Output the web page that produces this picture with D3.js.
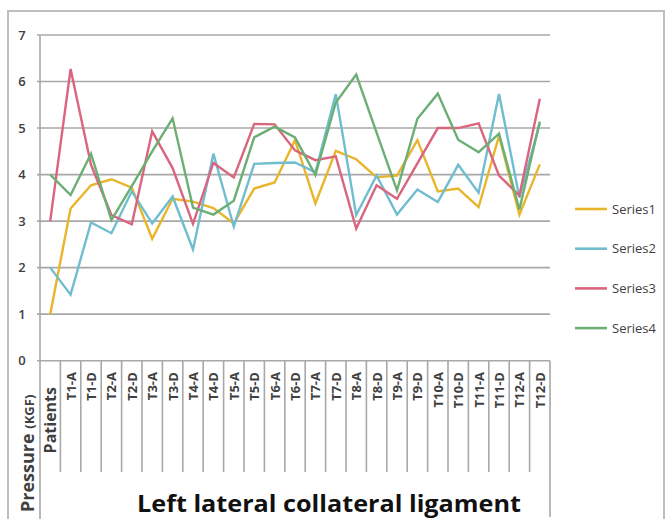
<!DOCTYPE html>
<html>
<head>
<meta charset="utf-8">
<script src="https://cdn.jsdelivr.net/npm/d3@7"></script>
<style>
  body { margin: 0; background: #fff; }
  text { font-family: "Open Sans", "Noto Sans", sans-serif; fill: #404040; }
</style>
</head>
<body>
<div id="chart"></div>
<script>

var categories = ["Patients", "T1-A", "T1-D", "T2-A", "T2-D", "T3-A", "T3-D", "T4-A", "T4-D",
    "T5-A", "T5-D", "T6-A", "T6-D", "T7-A", "T7-D", "T8-A", "T8-D", "T9-A", "T9-D",
    "T10-A", "T10-D", "T11-A", "T11-D", "T12-A", "T12-D"];

var series1 = [1, 3.27, 3.77, 3.9, 3.72, 2.62, 3.48, 3.42, 3.28, 2.95, 3.7, 3.83, 4.74, 3.38, 4.51,
    4.33, 3.94, 3.98, 4.74, 3.64, 3.7, 3.3, 4.83, 3.14, 4.22];
var series2 = [2, 1.42, 2.97, 2.74, 3.64, 2.95, 3.53, 2.39, 4.45, 2.88, 4.23, 4.25, 4.26, 4.05, 5.73,
    3.13, 3.98, 3.14, 3.68, 3.41, 4.21, 3.61, 5.73, 3.51, 5.1];
var series3 = [3, 6.27, 4.21, 3.13, 2.93, 4.93, 4.14, 2.94, 4.25, 3.94, 5.09, 5.08, 4.52, 4.31, 4.39,
    2.84, 3.77, 3.48, 4.24, 5.0, 5.0, 5.1, 3.98, 3.55, 5.63];
var series4 = [4, 3.56, 4.45, 3.02, 3.75, 4.5, 5.21, 3.29, 3.14, 3.44, 4.8, 5.03, 4.8, 3.99, 5.55,
    6.15, 4.9, 3.66, 5.2, 5.74, 4.75, 4.48, 4.88, 3.25, 5.14];

var seriesNames = ["Series1", "Series2", "Series3", "Series4"];
var yTicks = [0, 1, 2, 3, 4, 5, 6, 7];

var colors = ["#E9B52B", "#70BDD0", "#D9657F", "#6CAF74"];
var allSeries = [series1, series2, series3, series4];

var width = 667, height = 519;
var plot = {left: 40, right: 550, top: 35, bottom: 360.7};

var svg = d3.select("#chart").append("svg")
    .attr("width", width)
    .attr("height", height);

// outer frame
svg.append("rect")
    .attr("x", 8).attr("y", 11)
    .attr("width", 656).attr("height", 530)
    .attr("fill", "none")
    .attr("stroke", "#BEBEBE")
    .attr("stroke-width", 2);

var x = d3.scalePoint()
    .domain(categories)
    .range([plot.left, plot.right])
    .padding(0.5);

var y = d3.scaleLinear()
    .domain([0, 7])
    .range([plot.bottom, plot.top]);

var step = x.step();

// gridlines
svg.append("g").selectAll("line")
    .data(yTicks)
    .enter().append("line")
    .attr("x1", plot.left - 3)
    .attr("x2", plot.right)
    .attr("y1", function(d) { return y(d); })
    .attr("y2", function(d) { return y(d); })
    .attr("stroke", "#A8A8A8")
    .attr("stroke-width", 1.6);

// y labels
svg.append("g").selectAll("text")
    .data(yTicks)
    .enter().append("text")
    .attr("x", 22)
    .attr("y", function(d) { return y(d); })
    .attr("dy", "0.35em")
    .attr("text-anchor", "middle")
    .style("font-size", "13px")
    .style("font-weight", "600")
    .text(function(d) { return d; });

// left axis line
svg.append("line")
    .attr("x1", plot.left).attr("x2", plot.left)
    .attr("y1", plot.top).attr("y2", height)
    .attr("stroke", "#A8A8A8")
    .attr("stroke-width", 1.6);

// category separators
svg.append("g").selectAll("line")
    .data(categories.slice(1))
    .enter().append("line")
    .attr("x1", function(d) { return x(d) - step / 2; })
    .attr("x2", function(d) { return x(d) - step / 2; })
    .attr("y1", plot.bottom)
    .attr("y2", 472)
    .attr("stroke", "#A8A8A8")
    .attr("stroke-width", 1.6);

svg.append("line")
    .attr("x1", plot.right).attr("x2", plot.right)
    .attr("y1", plot.bottom).attr("y2", 517)
    .attr("stroke", "#A8A8A8")
    .attr("stroke-width", 1.6);

// category labels
svg.append("g").selectAll("text")
    .data(categories.slice(1))
    .enter().append("text")
    .attr("transform", function(d) { return "translate(" + (x(d) + 5) + ",372) rotate(-90)"; })
    .attr("text-anchor", "end")
    .style("font-size", "13px")
    .style("font-weight", "bold")
    .text(function(d) { return d; });

svg.append("text")
    .attr("transform", "translate(" + (x("Patients") + 6) + ",387) rotate(-90)")
    .attr("text-anchor", "end")
    .style("font-size", "16px")
    .style("font-weight", "bold")
    .text("Patients");

// y axis title
var yTitle = svg.append("text")
    .attr("transform", "translate(34,512) rotate(-90)")
    .style("font-weight", "bold");
yTitle.append("tspan").style("font-size", "18px").text("Pressure ");
yTitle.append("tspan").style("font-size", "13px").text("(KGF)");

// chart title
svg.append("text")
    .attr("x", 137)
    .attr("y", 512)
    .attr("textLength", 384)
    .attr("lengthAdjust", "spacingAndGlyphs")
    .style("font-size", "23px")
    .style("font-weight", "bold")
    .style("fill", "#111")
    .text("Left lateral collateral ligament");

// lines
var line = d3.line()
    .x(function(d, i) { return x(categories[i]); })
    .y(function(d) { return y(d); });

svg.append("g").selectAll("path")
    .data(allSeries)
    .enter().append("path")
    .attr("d", line)
    .attr("fill", "none")
    .attr("stroke", function(d, i) { return colors[i]; })
    .attr("stroke-width", 2.4)
    .attr("stroke-linejoin", "miter");

// legend
var legend = svg.append("g").selectAll("g")
    .data(seriesNames)
    .enter().append("g")
    .attr("transform", function(d, i) { return "translate(575," + (209 + i * 39.7) + ")"; });

legend.append("line")
    .attr("x1", 0).attr("x2", 32)
    .attr("stroke", function(d, i) { return colors[i]; })
    .attr("stroke-width", 2.6);

legend.append("text")
    .attr("x", 37)
    .attr("dy", "0.35em")
    .style("font-size", "13px")
    .text(function(d) { return d; });

</script>
</body>
</html>
